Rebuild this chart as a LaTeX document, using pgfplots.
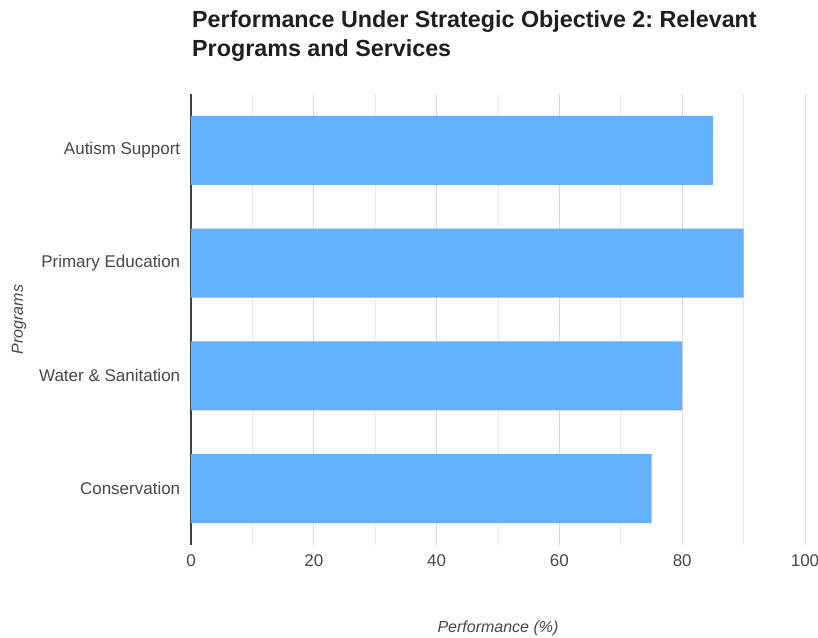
\documentclass[border=0pt]{standalone}
\usepackage{pgfplots}
\pgfplotsset{compat=1.18}
\usepackage{fontspec}
\setmainfont{Liberation Sans}
\frenchspacing

\definecolor{barblue}{RGB}{99,176,254}
\definecolor{majgrid}{RGB}{217,217,217}
\definecolor{mingrid}{RGB}{234,234,234}
\definecolor{ticktext}{RGB}{72,72,72}
\definecolor{titletext}{RGB}{30,30,30}

\begin{document}
\begin{tikzpicture}
% fixed page: 818 x 637, plot area lower left at origin
\useasboundingbox (-191pt,-92pt) rectangle (627pt,545pt);

\node[anchor=base west, font=\fontsize{23.3}{28}\selectfont\bfseries, text=titletext, inner sep=0pt]
  at (1pt,517pt) {Performance Under Strategic Objective 2: Relevant};
\node[anchor=base west, font=\fontsize{23.3}{28}\selectfont\bfseries, text=titletext, inner sep=0pt]
  at (1pt,488pt) {Programs and Services};

\begin{axis}[
  scale only axis,
  width=614pt, height=451pt,
  xbar, bar width=0.61, bar shift=0pt,
  xmin=0, xmax=100,
  ymin=-0.5, ymax=3.5,
  y dir=reverse,
  xtick={0,20,40,60,80,100},
  minor x tick num=1,
  xmajorgrids, xminorgrids,
  major grid style={majgrid, line width=1pt},
  minor grid style={mingrid, line width=1pt},
  ytick={0,1,2,3},
  yticklabels={Autism Support, Primary Education, Water \& Sanitation, Conservation},
  axis x line*=bottom, axis y line*=left,
  x axis line style={draw=none},
  y axis line style={draw=black!75, line width=1.2pt, -},
  tick style={draw=none},
  /pgf/number format/assume math mode=true,
  ticklabel style={font=\fontsize{17}{20}\selectfont, text=ticktext},
  xticklabel style={yshift=-6pt},
  yticklabel style={xshift=-3pt},
  xlabel={Performance (\%)},
  ylabel={Programs},
  label style={font=\fontsize{16}{19}\selectfont\itshape, text=ticktext},
  xlabel style={at={(axis description cs:0.5,-0.184)}, anchor=center},
  ylabel style={at={(axis description cs:-0.28,0.5)}, anchor=center},
  clip=false,
]
\addplot[fill=barblue, draw=none] coordinates {
  (85,0)
  (90,1)
  (80,2)
  (75,3)
};
\end{axis}
\end{tikzpicture}
\end{document}
